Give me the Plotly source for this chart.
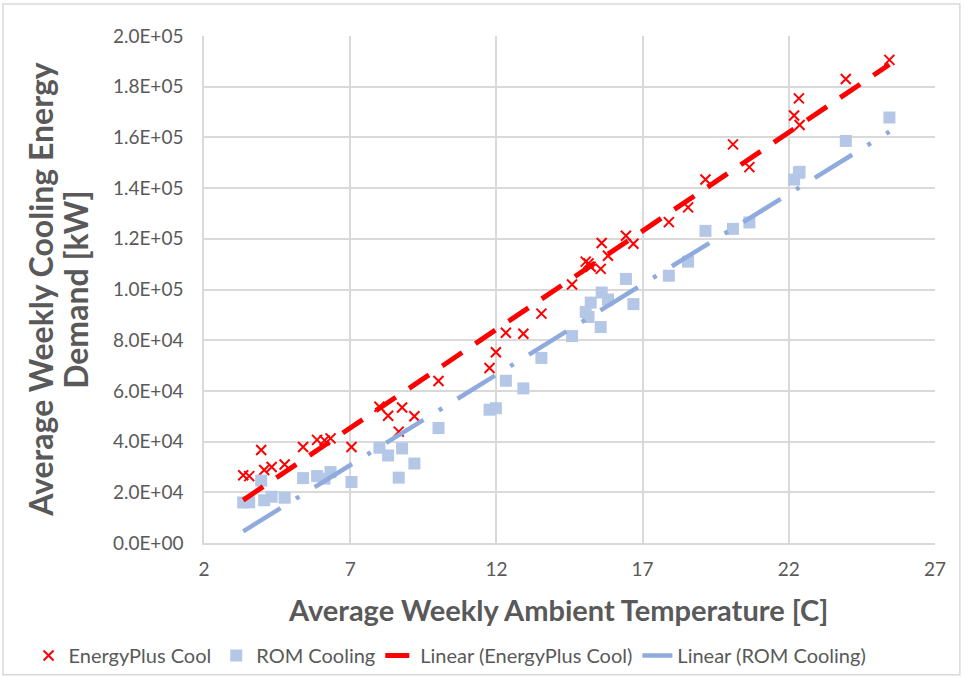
import numpy as np
import plotly.graph_objects as go

# Average weekly ambient temperature [C]
temp = [3.341, 3.546, 3.956, 4.058, 4.314, 4.758, 5.389, 5.867, 6.123, 6.328,
        7.044, 8.0, 8.297, 8.659, 8.775, 9.195, 10.02, 11.765, 11.983, 12.324,
        12.922, 13.539, 14.587, 15.055, 15.15, 15.225, 15.567, 15.601, 15.816, 16.43,
        16.686, 17.898, 18.556, 19.15, 20.092, 20.652, 22.181, 22.345, 22.369, 23.949,
        25.44]
# EnergyPlus cooling demand [kW]
eplus = [26705, 26387, 36704, 28768, 29958, 30950, 37894, 40672, 40474, 41267,
         37894, 53766, 50195, 43926, 53449, 49997, 63885, 69043, 75272, 82931,
         82534, 90470, 101978, 110985, 110310, 109001, 108126, 118365, 113286, 121222,
         118048, 126579, 132412, 143364, 157252, 148284, 168640, 175386, 164870, 183044,
         190583]
# ROM cooling demand [kW]
rom = [15991, 16070, 24602, 16864, 18253, 17856, 25594, 26387, 25395, 27974,
       24086, 37577, 34522, 25792, 37299, 31347, 45354, 52576, 53171, 64004,
       60988, 73011, 81622, 91145, 89161, 94835, 85193, 98803, 96026, 104160,
       94240, 105430, 110985, 123127, 123920, 126460, 143364, 146022, 146419, 158601,
       167846]

series_names = ["EnergyPlus Cool", "ROM Cooling",
                "Linear (EnergyPlus Cool)", "Linear (ROM Cooling)"]

y_ticks = [0, 20000, 40000, 60000, 80000, 100000, 120000, 140000, 160000, 180000, 200000]
y_labels = ["0.0E+00", "2.0E+04", "4.0E+04", "6.0E+04", "8.0E+04", "1.0E+05",
            "1.2E+05", "1.4E+05", "1.6E+05", "1.8E+05", "2.0E+05"]
x_ticks = [2, 7, 12, 17, 22, 27]

FONT = "Lato"
GREY = "#595959"

t = np.array(temp)
xfit = np.array([t.min(), t.max()])
pe = np.polyfit(t, np.array(eplus), 1)
pr = np.polyfit(t, np.array(rom), 1)

fig = go.Figure()
fig.add_trace(go.Scatter(x=temp, y=eplus, mode="markers", name=series_names[0],
                         marker=dict(symbol="x-thin", size=10, color="#ff0000",
                                     line=dict(color="#ff0000", width=2))))
fig.add_trace(go.Scatter(x=temp, y=rom, mode="markers", name=series_names[1],
                         marker=dict(symbol="square", size=12, color="#b4c7e7",
                                     line=dict(width=0))))
fig.add_trace(go.Scatter(x=xfit, y=np.polyval(pe, xfit), mode="lines",
                         name=series_names[2],
                         line=dict(color="#ff0000", width=5, dash="24px,16px")))
fig.add_trace(go.Scatter(x=xfit, y=np.polyval(pr, xfit), mode="lines",
                         name=series_names[3],
                         line=dict(color="#8faadc", width=4.5, dash="44px,18px,4px,18px")))

fig.update_layout(
    width=964, height=677,
    margin=dict(l=204, r=29, t=36, b=134, autoexpand=False),
    paper_bgcolor="white", plot_bgcolor="white",
    font=dict(family=FONT, color=GREY, size=19),
    showlegend=True,
    legend=dict(orientation="h", x=-0.24, y=-0.222, xanchor="left", yanchor="middle",
                font=dict(size=20, color=GREY), itemwidth=30, tracegroupgap=0,
                bgcolor="rgba(0,0,0,0)"),
    xaxis=dict(range=[2, 27], tickvals=x_ticks, ticktext=[str(v) for v in x_ticks],
               showgrid=True, gridcolor="#d9d9d9", gridwidth=1.5,
               showline=True, linecolor="#d9d9d9", linewidth=1.5,
               zeroline=False, ticks="", ticklabelstandoff=8,
               tickfont=dict(size=19, color=GREY)),
    yaxis=dict(range=[0, 200000], tickvals=y_ticks, ticktext=y_labels,
               showgrid=True, gridcolor="#d9d9d9", gridwidth=1.5,
               showline=True, linecolor="#d9d9d9", linewidth=1.5,
               zeroline=False, ticks="", ticklabelstandoff=15,
               tickfont=dict(size=19, color=GREY)),
    annotations=[
        dict(text="<b>Average Weekly Ambient Temperature [C]</b>", xref="paper", yref="paper",
             x=0.484, y=-0.132, xanchor="center", yanchor="middle", showarrow=False,
             font=dict(size=29, color=GREY, family=FONT)),
        dict(text="<b>Average Weekly Cooling Energy</b>", xref="paper", yref="paper",
             x=-0.224, y=0.5, xanchor="center", yanchor="middle", showarrow=False,
             textangle=-90, font=dict(size=32, color=GREY, family=FONT)),
        dict(text="<b>Demand [kW]</b>", xref="paper", yref="paper",
             x=-0.176, y=0.5, xanchor="center", yanchor="middle", showarrow=False,
             textangle=-90, font=dict(size=32, color=GREY, family=FONT)),
    ],
    shapes=[dict(type="rect", xref="paper", yref="paper", x0=-0.275, x1=1.034,
                 y0=-0.260, y1=1.063, line=dict(color="#d9d9d9", width=1.5),
                 fillcolor="rgba(0,0,0,0)", layer="below")],
)

fig.write_html("out.html")
